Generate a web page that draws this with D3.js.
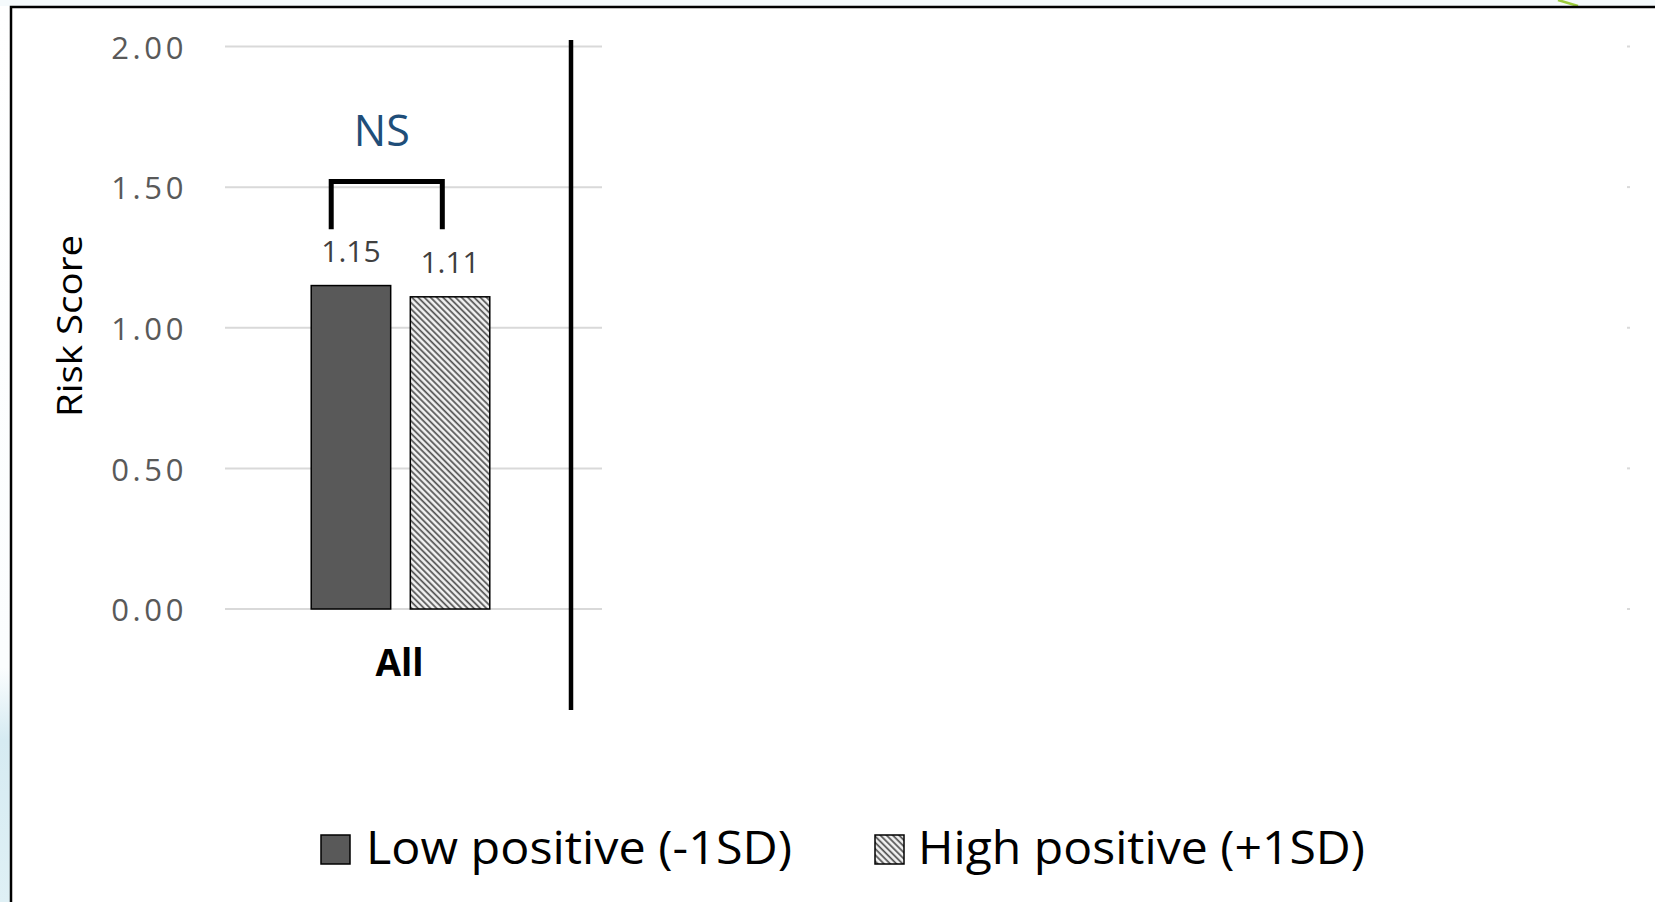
<!DOCTYPE html>
<html><head><meta charset="utf-8">
<script src="https://cdn.jsdelivr.net/npm/d3@7"></script>
<style>html,body{margin:0;padding:0;background:#fff;overflow:hidden}</style>
</head><body>
<svg id="c" width="1655" height="902"></svg>
<script>
const categories = ["All"];
const seriesNames = ["Low positive (-1SD)", "High positive (+1SD)"];
const lowValues = [1.15];
const highValues = [1.11];
const yTicks = [0, 0.5, 1.0, 1.5, 2.0];
const yDomain = [0, 2];
const significance = ["NS"];
const bracketRange = [1.35, 1.52];
const yTitle = "Risk Score";

const W = 1655, H = 902;
const FONT = "'Open Sans', 'Noto Sans', sans-serif";
const svg = d3.select("#c");
const defs = svg.append("defs");

// backgrounds outside frame
const lg = defs.append("linearGradient").attr("id","sideGrad").attr("x1",0).attr("y1",0).attr("x2",0).attr("y2",1);
lg.append("stop").attr("offset","0%").attr("stop-color","#ffffff");
lg.append("stop").attr("offset","74%").attr("stop-color","#fbfdfe");
lg.append("stop").attr("offset","82%").attr("stop-color","#d6ebf2");
lg.append("stop").attr("offset","100%").attr("stop-color","#dff0f5");
svg.append("rect").attr("x",0).attr("y",0).attr("width",11).attr("height",H).attr("fill","url(#sideGrad)");
svg.append("rect").attr("x",0).attr("y",0).attr("width",W).attr("height",6).attr("fill","#f5fafc");
svg.append("path").attr("d","M1558,0 Q1568,3 1578,6").attr("stroke","#9ccc3c").attr("stroke-width",2.5).attr("fill","none");

// frame
svg.append("rect").attr("x",11).attr("y",7).attr("width",W).attr("height",H)
  .attr("fill","#fff").attr("stroke","#000").attr("stroke-width",2.5);

// hatch pattern
const pat = defs.append("pattern").attr("id","hatch").attr("patternUnits","userSpaceOnUse")
  .attr("width",4.4).attr("height",4.4).attr("patternTransform","rotate(-45)");
pat.append("rect").attr("width",4.4).attr("height",4.4).attr("fill","#f2f2f2");
pat.append("line").attr("x1",1.1).attr("y1",0).attr("x2",1.1).attr("y2",4.4).attr("stroke","#505050").attr("stroke-width",1.7);

const fills = ["#595959", "url(#hatch)"];

// scales
const x = d3.scaleBand().domain(categories).range([225, 576]);
const x1 = d3.scaleBand().domain(seriesNames).range([0, x.bandwidth()]).paddingInner(0.198).paddingOuter(0.87);
const y = d3.scaleLinear().domain(yDomain).range([609, 46.5]);
const gridLeft = 225, gridRight = 602, hiddenGridX = 1627;

// gridlines
const grid = svg.append("g");
grid.selectAll("line.g").data(yTicks).join("line")
  .attr("x1", gridLeft).attr("x2", gridRight)
  .attr("y1", d => y(d)).attr("y2", d => y(d))
  .attr("stroke","#d9d9d9").attr("stroke-width",2);
grid.selectAll("line.h").data(yTicks).join("line")
  .attr("x1", hiddenGridX).attr("x2", hiddenGridX+3)
  .attr("y1", d => y(d)).attr("y2", d => y(d))
  .attr("stroke","#d9d9d9").attr("stroke-width",2);

// y axis
const yAxis = svg.append("g").attr("transform",`translate(${gridLeft},0)`)
  .call(d3.axisLeft(y).tickValues(yTicks).tickFormat(d3.format(".2f")).tickSize(0).tickPadding(38));
yAxis.select(".domain").remove();
yAxis.selectAll("text").attr("font-family",FONT).attr("font-size",31).attr("fill","#595959")
  .attr("letter-spacing","3.6px").attr("dy","0.38em");

// y title
svg.append("text").attr("transform","translate(82,326) rotate(-90)")
  .attr("text-anchor","middle").attr("font-family",FONT).attr("font-size",35).attr("fill","#000")
  .attr("textLength",182).attr("lengthAdjust","spacingAndGlyphs").text(yTitle);

// bars
const rows = categories.map((c,i) => [
  {cat:c, s:seriesNames[0], v:lowValues[i], k:0},
  {cat:c, s:seriesNames[1], v:highValues[i], k:1}
]);
const gCat = svg.selectAll("g.cat").data(rows).join("g").attr("class","cat")
  .attr("transform", (d,i) => `translate(${x(categories[i])},0)`);
gCat.selectAll("rect").data(d => d).join("rect")
  .attr("x", d => x1(d.s)).attr("width", x1.bandwidth())
  .attr("y", d => y(d.v)).attr("height", d => y(0) - y(d.v))
  .attr("fill", d => fills[d.k]).attr("stroke","#000").attr("stroke-width",1.5);
gCat.selectAll("text.val").data(d => d).join("text").attr("class","val")
  .attr("x", d => x1(d.s) + x1.bandwidth()/2).attr("y", d => y(d.v) - 24)
  .attr("text-anchor","middle").attr("font-family",FONT).attr("font-size",30).attr("fill","#404040")
  .text(d => d3.format(".2f")(d.v));

// category label
svg.selectAll("text.cat").data(categories).join("text").attr("class","cat")
  .attr("x", d => x(d) + x.bandwidth()/2 - 1).attr("y", 676)
  .attr("text-anchor","middle").attr("font-family",FONT).attr("font-weight","bold")
  .attr("font-size",37).attr("fill","#000").text(d => d);

// separator
svg.append("line").attr("x1",571).attr("x2",571).attr("y1",40).attr("y2",710)
  .attr("stroke","#000").attr("stroke-width",4.5);

// significance bracket
categories.forEach((c,i) => {
  const bx0 = x(c) + x1(seriesNames[0]) + 20;
  const bx1 = x(c) + x1(seriesNames[1]) + 32;
  svg.append("path")
    .attr("d", `M${bx0},${y(bracketRange[0])} V${y(bracketRange[1])} H${bx1} V${y(bracketRange[0])}`)
    .attr("fill","none").attr("stroke","#000").attr("stroke-width",5);
  svg.append("text").attr("x", (bx0+bx1)/2 - 5).attr("y", 146)
    .attr("text-anchor","middle").attr("font-family",FONT).attr("font-size",43).attr("fill","#1f4e79")
    .text(significance[i]);
});

// legend
const legendItems = [
  {name: seriesNames[0], k:0, sx:321, tx:366, tw:426},
  {name: seriesNames[1], k:1, sx:875, tx:918, tw:447}
];
const lgG = svg.append("g");
lgG.selectAll("rect").data(legendItems).join("rect")
  .attr("x", d => d.sx).attr("y",835).attr("width",29).attr("height",29)
  .attr("fill", d => fills[d.k]).attr("stroke","#000").attr("stroke-width",1.5);
lgG.selectAll("text").data(legendItems).join("text")
  .attr("x", d => d.tx).attr("y",864).attr("font-family",FONT).attr("font-size",45).attr("fill","#000")
  .attr("textLength", d => d.tw).attr("lengthAdjust","spacingAndGlyphs")
  .text(d => d.name);
</script>
</body></html>
